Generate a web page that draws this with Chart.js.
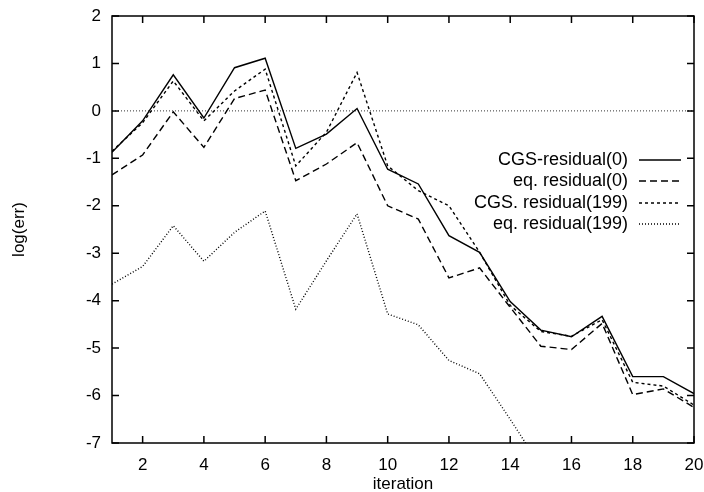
<!DOCTYPE html>
<html>
<head>
<meta charset="utf-8">
<script src="https://cdn.jsdelivr.net/npm/chart.js@4"></script>
<style>
  html, body { margin: 0; padding: 0; background: #fff; }
  #wrap { width: 704px; height: 492px; }
</style>
</head>
<body>
<div id="wrap"><canvas id="chart" width="704" height="492"></canvas></div>
<script>
const iterations = [1, 2, 3, 4, 5, 6, 7, 8, 9, 10, 11, 12, 13, 14, 15, 16, 17, 18, 19, 20];
const cgsResidual0 = [-0.87, -0.21, 0.76, -0.15, 0.91, 1.11, -0.79, -0.49, 0.05, -1.23, -1.54, -2.63, -2.98, -4.02, -4.62, -4.76, -4.33, -5.6, -5.6, -5.96];
const eqResidual0 = [-1.35, -0.93, -0.02, -0.77, 0.26, 0.44, -1.47, -1.12, -0.67, -2.0, -2.28, -3.52, -3.31, -4.14, -4.96, -5.03, -4.48, -5.98, -5.86, -6.25];
const cgsResidual199 = [-0.85, -0.25, 0.63, -0.21, 0.42, 0.88, -1.16, -0.45, 0.81, -1.16, -1.68, -2.0, -2.98, -4.1, -4.65, -4.75, -4.4, -5.72, -5.8, -6.2];
const eqResidual199 = [-3.65, -3.28, -2.42, -3.17, -2.56, -2.11, -4.18, -3.16, -2.17, -4.28, -4.51, -5.26, -5.54, -6.5, -7.5, null, null, null, null, null];
const seriesLabels = ["CGS-residual(0)", "eq. residual(0)", "CGS. residual(199)", "eq. residual(199)"];
const xTicks = [2, 4, 6, 8, 10, 12, 14, 16, 18, 20];
const yTicks = [-7, -6, -5, -4, -3, -2, -1, 0, 1, 2];

const FONT = "'Liberation Sans', Arial, Helvetica, sans-serif";
const dashes = [[], [7, 4], [3, 3], [1, 2]];
const allSeries = [cgsResidual0, eqResidual0, cgsResidual199, eqResidual199];

const datasets = allSeries.map((vals, i) => ({
    label: seriesLabels[i],
    data: iterations.map((x, k) => ({ x: x, y: vals[k] })),
    borderColor: "#000",
    borderWidth: 1.4,
    borderDash: dashes[i],
    pointRadius: 0,
    fill: false,
    tension: 0,
    spanGaps: false
}));

// gnuplot style frame, inward ticks, zero line and legend
const gnuplotLook = {
    id: "gnuplotLook",
    beforeDatasetsDraw(chart) {
        const { ctx, chartArea: a, scales: { y } } = chart;
        const y0 = y.getPixelForValue(0);
        ctx.save();
        ctx.strokeStyle = "#333";
        ctx.lineWidth = 1;
        ctx.setLineDash([1, 2]);
        ctx.beginPath();
        ctx.moveTo(a.left, y0);
        ctx.lineTo(a.right, y0);
        ctx.stroke();
        ctx.restore();
    },
    afterDraw(chart) {
        const { ctx, chartArea: a, scales: { x, y } } = chart;
        ctx.save();
        ctx.strokeStyle = "#000";
        ctx.lineWidth = 1.5;
        ctx.setLineDash([]);
        ctx.strokeRect(a.left, a.top, a.right - a.left, a.bottom - a.top);
        const tl = 7;
        ctx.beginPath();
        yTicks.forEach(v => {
            const py = y.getPixelForValue(v);
            ctx.moveTo(a.left, py); ctx.lineTo(a.left + tl, py);
            ctx.moveTo(a.right, py); ctx.lineTo(a.right - tl, py);
        });
        xTicks.forEach(v => {
            const px = x.getPixelForValue(v);
            ctx.moveTo(px, a.bottom); ctx.lineTo(px, a.bottom - tl);
            ctx.moveTo(px, a.top); ctx.lineTo(px, a.top + tl);
        });
        ctx.stroke();

        // legend
        ctx.font = "18px " + FONT;
        ctx.fillStyle = "#000";
        ctx.textAlign = "right";
        ctx.textBaseline = "middle";
        const rows = [160, 181, 203, 224];
        seriesLabels.forEach((lab, i) => {
            ctx.fillText(lab, 628, rows[i]);
            ctx.lineWidth = 1.3;
            ctx.setLineDash(dashes[i]);
            ctx.beginPath();
            ctx.moveTo(639, rows[i]);
            ctx.lineTo(681, rows[i]);
            ctx.stroke();
        });
        ctx.restore();
    }
};

new Chart(document.getElementById("chart"), {
    type: "line",
    data: { datasets: datasets },
    options: {
        responsive: false,
        animation: false,
        devicePixelRatio: 1,
        layout: { padding: { top: 16, right: 10, left: 0, bottom: 0 } },
        plugins: { legend: { display: false }, tooltip: { enabled: false } },
        scales: {
            x: {
                type: "linear",
                min: 1,
                max: 20,
                grid: { display: false, drawTicks: false },
                border: { display: false },
                afterBuildTicks: s => { s.ticks = xTicks.map(v => ({ value: v })); },
                afterFit: s => { s.height = 49; s.paddingLeft = 0; s.paddingRight = 0; },
                ticks: { color: "#000", padding: 12, maxRotation: 0, font: { family: FONT, size: 17 } },
                title: { display: true, text: "iteration", color: "#000", padding: { top: 0, bottom: -1 }, font: { family: FONT, size: 17, lineHeight: 1 } }
            },
            y: {
                type: "linear",
                min: -7,
                max: 2,
                grid: { display: false, drawTicks: false },
                border: { display: false },
                afterBuildTicks: s => { s.ticks = yTicks.map(v => ({ value: v })); },
                afterFit: s => { s.width = 112; s.paddingTop = 0; s.paddingBottom = 0; },
                ticks: { color: "#000", padding: 11, font: { family: FONT, size: 17 } },
                title: { display: true, text: "log(err)", color: "#000", padding: { top: 11, bottom: 0 }, font: { family: FONT, size: 17, lineHeight: 1 } }
            }
        }
    },
    plugins: [gnuplotLook]
});
</script>
</body>
</html>
